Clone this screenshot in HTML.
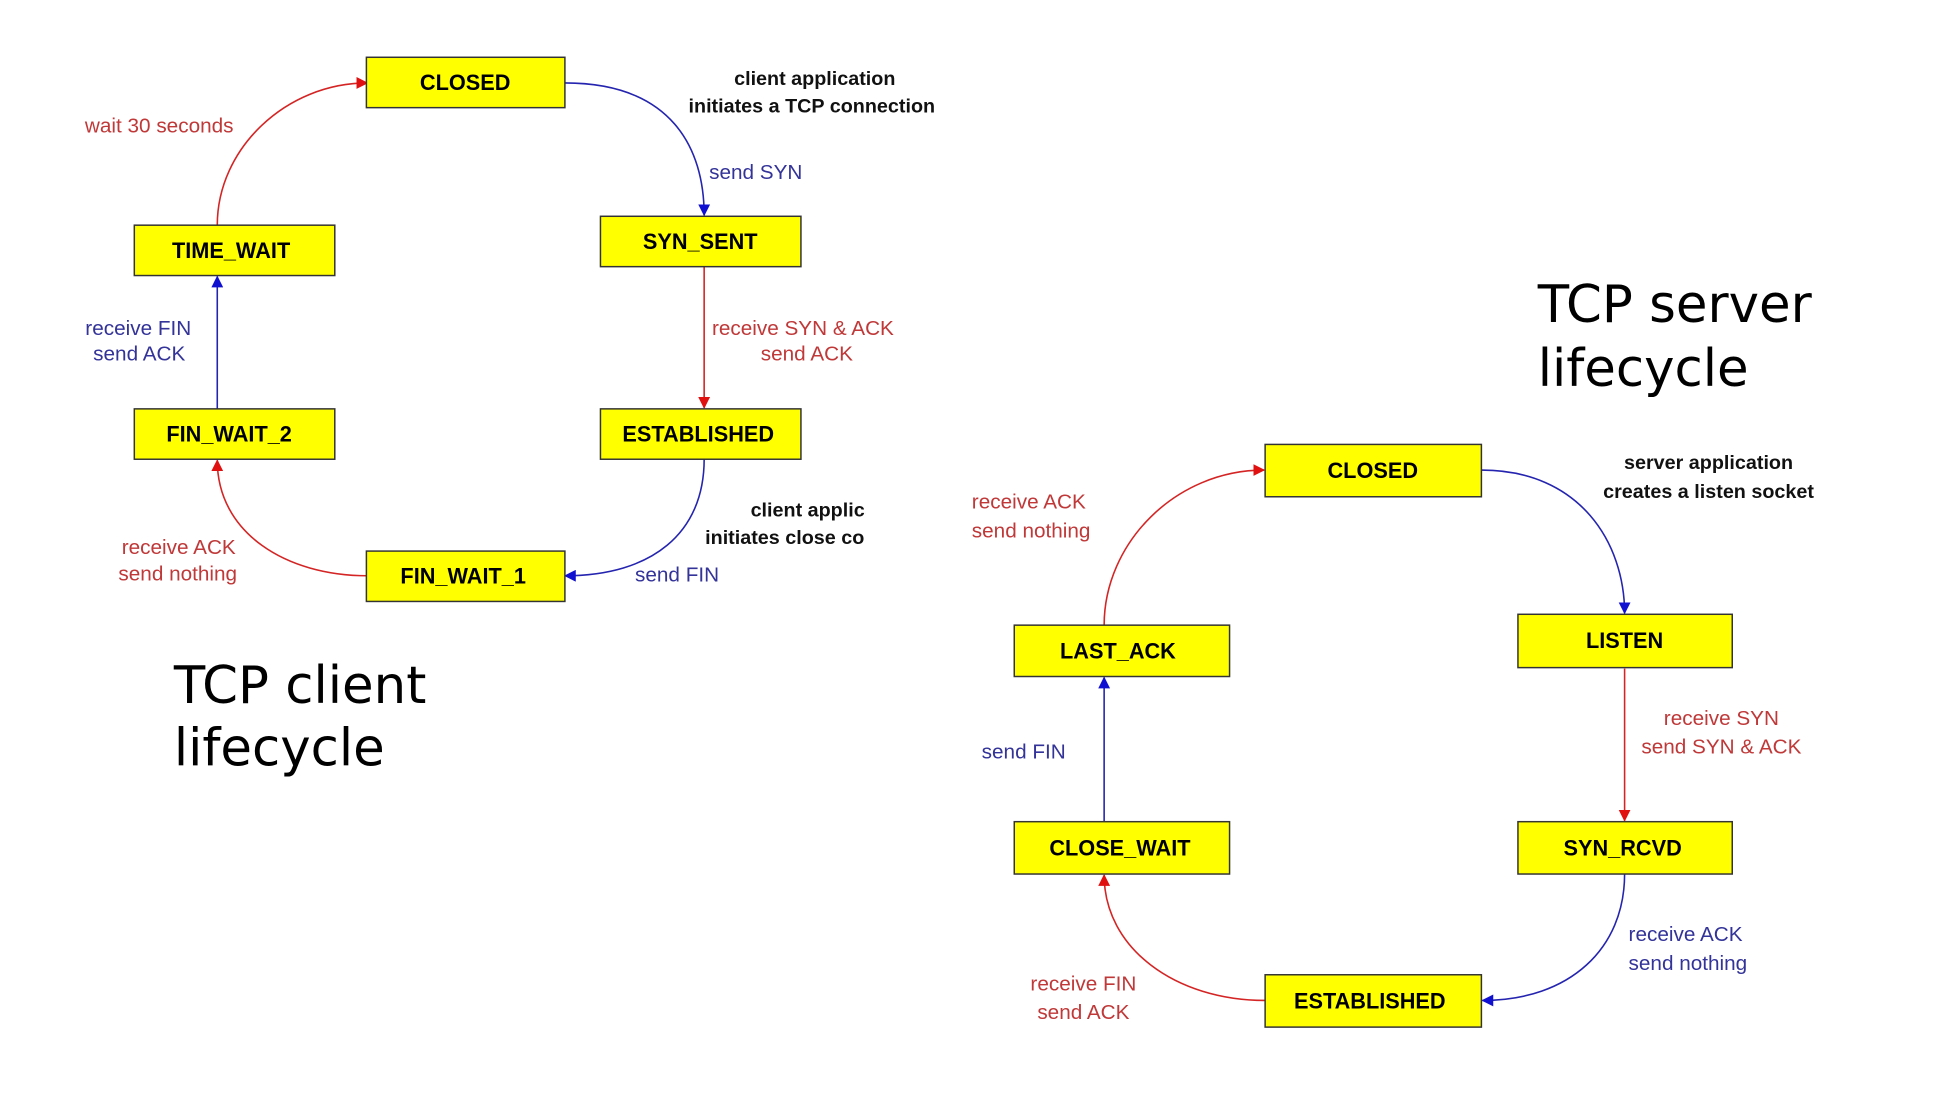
<!DOCTYPE html>
<html><head><meta charset="utf-8"><style>
html,body{margin:0;padding:0;background:#fff;}
svg{display:block;}
.b{font-family:"Liberation Sans",Arial,sans-serif;font-weight:bold;font-size:22px;fill:#000;}
.r{font-family:"Liberation Sans",Arial,sans-serif;font-size:21px;fill:#c03838;}
.u{font-family:"Liberation Sans",Arial,sans-serif;font-size:21px;fill:#33339a;}
.k{font-family:"Liberation Sans",Arial,sans-serif;font-weight:bold;font-size:20px;fill:#111;}
.t{font-family:"Comic Sans MS","DejaVu Sans","Liberation Sans",sans-serif;font-size:52px;fill:#000;}
rect{fill:#ffff00;stroke:#333;stroke-width:1.5;}
.pr{fill:none;stroke:#d42424;stroke-width:1.6;}
.pb{fill:none;stroke:#2424b0;stroke-width:1.6;}
</style></head><body>
<svg width="1946" height="1094" viewBox="0 0 1946 1094" xmlns="http://www.w3.org/2000/svg">
<defs>
<marker id="ar" markerWidth="12" markerHeight="12" refX="11" refY="6" orient="auto" markerUnits="userSpaceOnUse"><path d="M0,0 L12,6 L0,12 z" fill="#e01010"/></marker>
<marker id="ab" markerWidth="12" markerHeight="12" refX="11" refY="6" orient="auto" markerUnits="userSpaceOnUse"><path d="M0,0 L12,6 L0,12 z" fill="#1010d0"/></marker>
<clipPath id="cl"><rect x="0" y="0" width="876" height="1094"/></clipPath>
</defs>
<g transform="scale(0.9876)">
<!-- LEFT: client -->
<path class="pb" d="M572,84 C680,84 713,150 713,218" marker-end="url(#ab)"/>
<path class="pr" d="M220,228 C220,150 290,84 372,84" marker-end="url(#ar)"/>
<path class="pr" d="M713,270 L713,413" marker-end="url(#ar)"/>
<path class="pb" d="M220,414 L220,280" marker-end="url(#ab)"/>
<path class="pb" d="M713,465 C713,540 660,583 572,583" marker-end="url(#ab)"/>
<path class="pr" d="M372,583 C290,583 220,540 220,466" marker-end="url(#ar)"/>

<rect x="371" y="58" width="201" height="51"/><text class="b" x="471" y="91" text-anchor="middle">CLOSED</text>
<rect x="608" y="219" width="203" height="51"/><text class="b" x="709" y="252" text-anchor="middle">SYN_SENT</text>
<rect x="608" y="414" width="203" height="51"/><text class="b" x="707" y="447" text-anchor="middle">ESTABLISHED</text>
<rect x="371" y="558" width="201" height="51"/><text class="b" x="469" y="591" text-anchor="middle">FIN_WAIT_1</text>
<rect x="136" y="228" width="203" height="51"/><text class="b" x="234" y="261" text-anchor="middle">TIME_WAIT</text>
<rect x="136" y="414" width="203" height="51"/><text class="b" x="232" y="447" text-anchor="middle">FIN_WAIT_2</text>

<text class="k" x="825" y="86" text-anchor="middle">client application</text>
<text class="k" x="822" y="114" text-anchor="middle">initiates a TCP connection</text>
<text class="r" x="86" y="134">wait 30 seconds</text>
<text class="u" x="718" y="181">send SYN</text>
<text class="r" x="813" y="339" text-anchor="middle">receive SYN &amp; ACK</text>
<text class="r" x="817" y="365" text-anchor="middle">send ACK</text>
<text class="u" x="140" y="339" text-anchor="middle">receive FIN</text>
<text class="u" x="141" y="365" text-anchor="middle">send ACK</text>
<g clip-path="url(#cl)">
<text class="k" x="760" y="523">client application</text>
<text class="k" x="714" y="551">initiates close connection</text>
</g>
<text class="u" x="643" y="589">send FIN</text>
<text class="r" x="181" y="561" text-anchor="middle">receive  ACK</text>
<text class="r" x="180" y="588" text-anchor="middle">send nothing</text>
<text class="t" x="176" y="712">TCP client</text>
<text class="t" x="176" y="775">lifecycle</text>

<!-- RIGHT: server -->
<path class="pb" d="M1500,476 C1600,476 1645,550 1645,621" marker-end="url(#ab)"/>
<path class="pr" d="M1118,633 C1118,550 1190,476 1280,476" marker-end="url(#ar)"/>
<path class="pr" d="M1645,677 L1645,831" marker-end="url(#ar)"/>
<path class="pb" d="M1118,832 L1118,686" marker-end="url(#ab)"/>
<path class="pb" d="M1645,885 C1645,960 1590,1013 1501,1013" marker-end="url(#ab)"/>
<path class="pr" d="M1281,1013 C1190,1013 1118,960 1118,886" marker-end="url(#ar)"/>

<rect x="1281" y="450" width="219" height="53"/><text class="b" x="1390" y="484" text-anchor="middle">CLOSED</text>
<rect x="1537" y="622" width="217" height="54"/><text class="b" x="1645" y="656" text-anchor="middle">LISTEN</text>
<rect x="1537" y="832" width="217" height="53"/><text class="b" x="1643" y="866" text-anchor="middle">SYN_RCVD</text>
<rect x="1281" y="987" width="219" height="53"/><text class="b" x="1387" y="1021" text-anchor="middle">ESTABLISHED</text>
<rect x="1027" y="633" width="218" height="52"/><text class="b" x="1132" y="667" text-anchor="middle">LAST_ACK</text>
<rect x="1027" y="832" width="218" height="53"/><text class="b" x="1134" y="866" text-anchor="middle">CLOSE_WAIT</text>

<text class="k" x="1730" y="475" text-anchor="middle">server application</text>
<text class="k" x="1730" y="504" text-anchor="middle">creates a listen socket</text>
<text class="r" x="984" y="515">receive  ACK</text>
<text class="r" x="984" y="544">send nothing</text>
<text class="r" x="1743" y="734" text-anchor="middle">receive SYN</text>
<text class="r" x="1743" y="763" text-anchor="middle">send SYN &amp; ACK</text>
<text class="u" x="994" y="768">send FIN</text>
<text class="u" x="1649" y="953">receive  ACK</text>
<text class="u" x="1649" y="982">send nothing</text>
<text class="r" x="1097" y="1003" text-anchor="middle">receive FIN</text>
<text class="r" x="1097" y="1032" text-anchor="middle">send ACK</text>
<text class="t" x="1557" y="326">TCP server</text>
<text class="t" x="1557" y="391">lifecycle</text>
</g>
</svg>
</body></html>
